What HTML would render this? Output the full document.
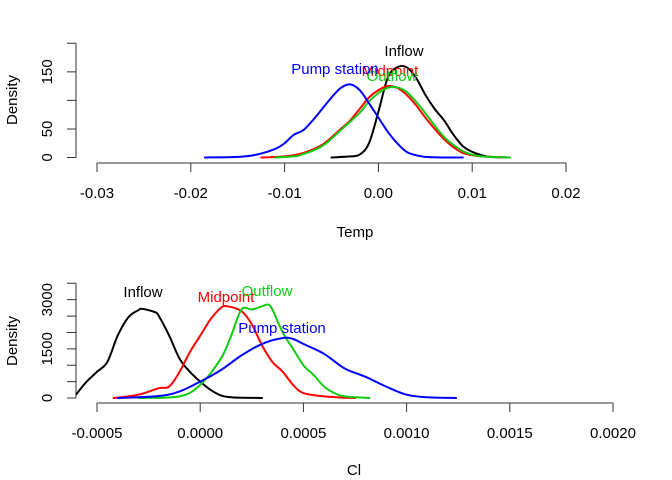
<!DOCTYPE html>
<html><head><meta charset="utf-8"><style>
body{margin:0;background:#fff}
svg{display:block;font-family:"Liberation Sans",Arial,sans-serif}
</style></head><body>
<svg id="c" width="672" height="480" viewBox="0 0 672 480" xmlns="http://www.w3.org/2000/svg"></svg>
<script>
// Top panel (Temp)
const tempXTicks=[-0.03,-0.02,-0.01,0,0.01,0.02];
const tempXTickLabels=["-0.03","-0.02","-0.01","0.00","0.01","0.02"];
const tempYTicks=[0,50,100,150,200];
const tempYTickLabels=["0","50","","150",""];
const tempInflowX=[-0.005,-0.003,-0.002,-0.001,0,0.001,0.002,0.003,0.004,0.005,0.006,0.007,0.008,0.009,0.01,0.011,0.012,0.014];
const tempInflowY=[0,2,5,25,80,140,158,158,140,110,85,65,40,20,10,4,1,0];
const tempPumpX=[-0.0185,-0.015,-0.013,-0.011,-0.01,-0.009,-0.008,-0.007,-0.006,-0.005,-0.004,-0.003,-0.002,-0.001,0,0.001,0.002,0.003,0.004,0.005,0.007,0.009];
const tempPumpY=[0,1,5,15,25,40,48,65,85,105,122,128,118,95,70,45,25,10,4,1,0,0];
const tempMidX=[-0.0125,-0.01,-0.008,-0.006,-0.004,-0.003,-0.002,-0.001,0,0.001,0.002,0.003,0.004,0.005,0.006,0.007,0.008,0.009,0.01,0.011,0.012,0.014];
const tempMidY=[0,2,8,22,50,65,85,105,118,125,122,110,92,70,50,32,18,8,4,2,1,0];
const tempOutX=[-0.011,-0.009,-0.008,-0.006,-0.004,-0.003,-0.002,-0.001,0,0.001,0.002,0.003,0.004,0.005,0.006,0.007,0.008,0.009,0.01,0.011,0.012,0.014];
const tempOutY=[0,2,6,20,48,63,78,98,113,122,123,115,98,78,56,36,22,11,5,2,1,0];
// Bottom panel (Cl)
const clXTicks=[-0.0005,0,0.0005,0.001,0.0015,0.002];
const clXTickLabels=["-0.0005","0.0000","0.0005","0.0010","0.0015","0.0020"];
const clYTicks=[0,500,1000,1500,2000,2500,3000,3500];
const clYTickLabels=["0","","","1500","","","3000",""];
const clInflowX=[-0.0006,-0.00055,-0.0005,-0.00045,-0.0004,-0.00035,-0.0003,-0.00028,-0.00022,-0.0002,-0.00015,-0.0001,-0.00005,0,0.00005,0.0001,0.00015,0.0002,0.0003];
const clInflowY=[120,500,800,1100,1900,2450,2680,2720,2620,2500,1900,1200,800,500,250,80,20,10,0];
const clMidX=[-0.00042,-0.0003,-0.0002,-0.00015,-0.0001,-0.00005,0,0.00005,0.0001,0.00013,0.0002,0.00025,0.0003,0.00035,0.0004,0.00045,0.0005,0.0006,0.0007,0.00075];
const clMidY=[0,100,300,350,800,1400,1900,2400,2750,2800,2650,2250,1600,1100,800,400,150,50,10,0];
const clOutX=[-0.0003,-0.0001,0,0.0001,0.00015,0.0002,0.00025,0.0003,0.00033,0.00035,0.0004,0.00045,0.0005,0.00055,0.0006,0.00065,0.0007,0.00082];
const clOutY=[0,50,400,1200,1900,2700,2700,2800,2850,2700,2000,1500,1000,700,350,150,50,0];
const clPumpX=[-0.0004,-0.0002,-0.0001,0,0.0001,0.0002,0.0003,0.0004,0.00045,0.0005,0.0006,0.0007,0.0008,0.0009,0.001,0.0011,0.00124];
const clPumpY=[0,60,200,500,850,1300,1650,1830,1800,1650,1350,900,650,350,100,20,0];

const svg=document.getElementById('c');
const NS='http://www.w3.org/2000/svg';
function mk(tag,attrs,parent){const e=document.createElementNS(NS,tag);for(const k in attrs)e.setAttribute(k,attrs[k]);(parent||svg).appendChild(e);return e;}
function txt(x,y,s,attrs){const e=mk('text',Object.assign({x:x,y:y,'font-size':15,'text-anchor':'middle'},attrs||{}));e.textContent=s;return e;}
function smooth(pts){
  let d=`M${pts[0][0].toFixed(1)},${pts[0][1].toFixed(1)}`;
  for(let i=0;i<pts.length-1;i++){
    const p0=pts[Math.max(0,i-1)],p1=pts[i],p2=pts[i+1],p3=pts[Math.min(pts.length-1,i+2)];
    const c1=[p1[0]+(p2[0]-p0[0])/6,p1[1]+(p2[1]-p0[1])/6];
    const c2=[p2[0]-(p3[0]-p1[0])/6,p2[1]-(p3[1]-p1[1])/6];
    d+=`C${c1[0].toFixed(1)},${c1[1].toFixed(1)} ${c2[0].toFixed(1)},${c2[1].toFixed(1)} ${p2[0].toFixed(1)},${p2[1].toFixed(1)}`;
  }
  return d;
}

function panel(cfg){
  const g=mk('g',{});
  
  
  const sx=v=>cfg.x0+(v-cfg.xa)*(cfg.x1-cfg.x0)/(cfg.xb-cfg.xa);
  const sy=v=>cfg.y0-(v-cfg.ya)*(cfg.y0-cfg.y1)/(cfg.yb-cfg.ya);
  const xa=mk('path',{d:`M${sx(cfg.xt[0])},${cfg.axY}H${sx(cfg.xt[cfg.xt.length-1])}`+cfg.xt.map(t=>`M${sx(t)},${cfg.axY}v9`).join(''),stroke:'#333',fill:'none','stroke-width':1},g);
  
  
  cfg.xt.forEach((t,i)=>{const e=txt(sx(t),cfg.axY+35,cfg.xl[i]);g.appendChild(e);});
  const ya=mk('path',{d:`M76,${sy(cfg.yt[0])}V${sy(cfg.yt[cfg.yt.length-1])}`+cfg.yt.map(t=>`M76,${sy(t)}h-9`).join(''),stroke:'#333',fill:'none','stroke-width':1},g);
  
  
  cfg.yt.forEach((t,i)=>{if(!cfg.yl[i])return;const e=txt(0,0,cfg.yl[i],{transform:`translate(52,${sy(t)}) rotate(-90)`});g.appendChild(e);});
  const xt=txt(cfg.titleX,cfg.titleY,cfg.xTitle);g.appendChild(xt);
  const yt=txt(0,0,'Density',{transform:`translate(17,${cfg.densY}) rotate(-90)`});g.appendChild(yt);
  cfg.series.forEach(s=>{
    const pts=s.x.map((v,i)=>[sx(v),sy(s.y[i])]);
    const p=mk('path',{d:smooth(pts),fill:'none',stroke:s.c,'stroke-width':2,'stroke-linejoin':'round','stroke-linecap':'round'},g);
    
    
    const l=txt(s.lx,s.ly,s.label,{fill:s.c});g.appendChild(l);
  });
}
panel({name:'temp-panel',xa:-0.03,xb:0.02,x0:97,x1:566,ya:0,yb:200,y0:157.5,y1:43.3,axY:163,
  xt:tempXTicks,xl:tempXTickLabels,yt:tempYTicks,yl:tempYTickLabels,xTitle:'Temp',titleX:355,titleY:237,densY:100,
  series:[
   {n:'temp-inflow',x:tempInflowX,y:tempInflowY,c:'#000',label:'Inflow',lx:404,ly:56},
   {n:'temp-midpoint',x:tempMidX,y:tempMidY,c:'#f00',label:'Midpoint',lx:390,ly:76},
   {n:'temp-outflow',x:tempOutX,y:tempOutY,c:'#1c1',label:'Outflow',lx:392,ly:81},
   {n:'temp-pump-station',x:tempPumpX,y:tempPumpY,c:'#00f',label:'Pump station',lx:335,ly:74}]});
panel({name:'cl-panel',xa:-0.0005,xb:0.002,x0:97,x1:613,ya:0,yb:3500,y0:398,y1:283.3,axY:403,
  xt:clXTicks,xl:clXTickLabels,yt:clYTicks,yl:clYTickLabels,xTitle:'Cl',titleX:354,titleY:475,densY:341,
  series:[
   {n:'cl-inflow',x:clInflowX,y:clInflowY,c:'#000',label:'Inflow',lx:143,ly:297},
   {n:'cl-midpoint',x:clMidX,y:clMidY,c:'#f00',label:'Midpoint',lx:226,ly:302},
   {n:'cl-outflow',x:clOutX,y:clOutY,c:'#1c1',label:'Outflow',lx:267,ly:296},
   {n:'cl-pump-station',x:clPumpX,y:clPumpY,c:'#00f',label:'Pump station',lx:282,ly:333}]});
</script>
</body></html>
